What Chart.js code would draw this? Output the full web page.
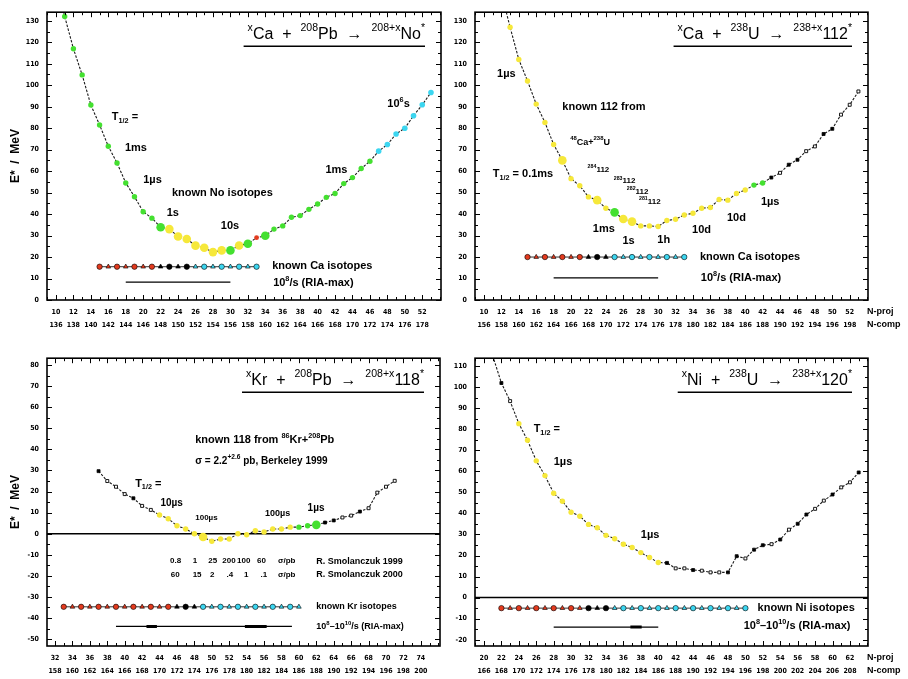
<!DOCTYPE html>
<html>
<head>
<meta charset="utf-8">
<title>Excitation energies of compound nuclei</title>
<script src="https://cdn.jsdelivr.net/npm/chart.js@4.4.1/dist/chart.umd.min.js"></script>
<style>
  html, body { margin:0; padding:0; background:#fff; width:908px; height:679px; overflow:hidden; }
  canvas { position:absolute; }
</style>
</head>
<body>
<canvas id="c1" width="454" height="333" style="left:0;top:0"></canvas>
<canvas id="c2" width="454" height="333" style="left:454px;top:0"></canvas>
<canvas id="c3" width="454" height="333" style="left:0;top:346px"></canvas>
<canvas id="c4" width="454" height="333" style="left:454px;top:346px"></canvas>
<script>
// ================= DATA =================
// Panel 1: xCa + 208Pb -> 208+xNo*
const p1N = [10,11,12,13,14,15,16,17,18,19,20,21,22,23,24,25,26,27,28,29,30,31,32,33,34,35,36,37,38,39,40,41,42,43,44,45,46,47,48,49,50,51,52,53];
const p1E = [150,132,117,104.8,90.8,81.5,71.6,63.8,54.5,48.1,41.1,38.1,33.9,33.0,29.6,28.4,25.3,24.3,22.3,23.1,23.1,25.4,26.2,29.0,29.9,33.0,34.5,38.5,39.3,42.2,44.7,47.8,49.6,54.2,57.0,61.2,64.6,69.3,72.4,77.3,80.0,85.8,90.9,96.6];
const p1Cls = ['n','g','g','g','g','g','g','g','g','g','g','g','G','Y','Y','Y','Y','Y','Y','Y','G','Y','G','r','G','g','g','g','g','g','g','g','g','g','g','g','g','c','c','c','c','c','c','c'];
const p1RowN = [15,16,17,18,19,20,21,22,23,24,25,26,27,28,29,30,31,32,33];
const p1RowCls = ['r','r','r','r','r','r','r','b','b','b','b','c','c','c','c','c','c','c','c'];
const p1RowE = 15.5;
const p1Ria = [18, 30];
const p1RiaE = 8.3;
const p1Proj = [10,12,14,16,18,20,22,24,26,28,30,32,34,36,38,40,42,44,46,48,50,52];
const p1Comp = [136,138,140,142,144,146,148,150,152,154,156,158,160,162,164,166,168,170,172,174,176,178];
const p1YTicks = [0,10,20,30,40,50,60,70,80,90,100,110,120,130];

// Panel 2: xCa + 238U -> 238+x112*
const p2N = [12,13,14,15,16,17,18,19,20,21,22,23,24,25,26,27,28,29,30,31,32,33,34,35,36,37,38,39,40,41,42,43,44,45,46,47,48,49,50,51,52,53];
const p2E = [143,127,112,102,91.2,82.7,72.4,65,56.5,53.2,48,46.5,42.7,40.8,37.7,36.5,34.5,34.5,34.2,37,37.6,39.6,40.4,42.7,43.1,46.8,46.5,49.6,51.2,53.5,54.5,57,59.2,63,65.3,69.3,71.5,77.3,79.7,86.3,90.9,97.1];
const p2Cls = ['n','y','y','y','y','y','y','Y','y','y','y','Y','y','G','Y','Y','y','y','y','y','y','y','y','y','y','y','y','y','y','g','g','b','o','b','b','o','o','b','b','o','o','o'];
const p2RowN = [15,16,17,18,19,20,21,22,23,24,25,26,27,28,29,30,31,32,33];
const p2RowCls = ['r','r','r','r','r','r','r','b','b','b','c','c','c','c','c','c','c','c','c'];
const p2RowE = 20;
const p2Ria = [18, 30];
const p2RiaE = 10.3;
const p2Proj = [10,12,14,16,18,20,22,24,26,28,30,32,34,36,38,40,42,44,46,48,50,52];
const p2Comp = [156,158,160,162,164,166,168,170,172,174,176,178,180,182,184,186,188,190,192,194,196,198];
const p2YTicks = [0,10,20,30,40,50,60,70,80,90,100,110,120,130];

// Panel 3: xKr + 208Pb -> 208+x118*
const p3N = [37,38,39,40,41,42,43,44,45,46,47,48,49,50,51,52,53,54,55,56,57,58,59,60,61,62,63,64,65,66,67,68,69,70,71];
const p3E = [29.7,25,22.3,18.8,16.8,13.2,11.3,8.9,7.1,3.8,2.2,0,-1.6,-3.6,-2.5,-2.5,0,-0.5,1.4,0.8,2.2,2.2,3.1,3.1,3.8,4.2,5.3,6.3,7.7,8.6,10.5,12.1,19.5,22.3,25.1];
const p3Cls = ['b','o','o','o','b','o','o','y','y','y','y','y','Y','y','y','y','y','y','y','y','y','y','y','g','g','G','b','b','o','o','b','o','o','o','o'];
const p3RowN = [33,34,35,36,37,38,39,40,41,42,43,44,45,46,47,48,49,50,51,52,53,54,55,56,57,58,59,60];
const p3RowCls = ['r','r','r','r','r','r','r','r','r','r','r','r','r','b','b','b','c','c','c','c','c','c','c','c','c','c','c','c'];
const p3RowE = -34.7;
const p3Ria = [39, 59.2];
const p3RiaThick = [[42.5, 43.7], [53.8, 56.3]];
const p3RiaE = -44;
const p3Proj = [32,34,36,38,40,42,44,46,48,50,52,54,56,58,60,62,64,66,68,70,72,74];
const p3Comp = [158,160,162,164,166,168,170,172,174,176,178,180,182,184,186,188,190,192,194,196,198,200];
const p3YTicks = [-50,-40,-30,-20,-10,0,10,20,30,40,50,60,70,80];

// Panel 4: xNi + 238U -> 238+x120*
const p4N = [21,22,23,24,25,26,27,28,29,30,31,32,33,34,35,36,37,38,39,40,41,42,43,44,45,46,47,48,49,50,51,52,53,54,55,56,57,58,59,60,61,62,63];
const p4E = [115,102,93.4,82.7,74.8,65,58,49.6,45.8,40.6,38.7,34.8,33.2,29.6,28,25.4,23.8,21.4,19.1,16.7,16.5,13.9,13.9,13.1,12.8,12,12,12,19.7,18.6,22.8,24.9,25.4,27.6,32.3,35.1,39.5,42.2,46.1,49,52.4,54.8,59.5];
const p4Cls = ['n','b','o','y','y','y','y','y','y','y','y','y','y','y','y','y','y','y','y','y','b','o','o','b','o','o','o','b','b','o','b','b','o','b','o','b','b','o','o','b','o','o','b'];
const p4RowN = [22,23,24,25,26,27,28,29,30,31,32,33,34,35,36,37,38,39,40,41,42,43,44,45,46,47,48,49,50];
const p4RowCls = ['r','r','r','r','r','r','r','r','r','r','b','b','b','c','c','c','c','c','c','c','c','c','c','c','c','c','c','c','c'];
const p4RowE = -5;
const p4Ria = [28, 40];
const p4RiaThick = [[36.8, 38.1]];
const p4RiaE = -14;
const p4Proj = [20,22,24,26,28,30,32,34,36,38,40,42,44,46,48,50,52,54,56,58,60,62];
const p4Comp = [166,168,170,172,174,176,178,180,182,184,186,188,190,192,194,196,198,200,202,204,206,208];
const p4YTicks = [-20,-10,0,10,20,30,40,50,60,70,80,90,100,110];

// ================= TEXT LABELS =================
const p1Notes = [
  {t:'T_{1/2} =', n:16.4, e:85},
  {t:'1ms', n:17.9, e:70.7},
  {t:'1µs', n:20, e:55.8},
  {t:'known No isotopes', n:23.3, e:49.9},
  {t:'1s', n:22.7, e:40.4},
  {t:'10s', n:28.9, e:34.5},
  {t:'1ms', n:40.9, e:60.4},
  {t:'10^{6}s', n:48, e:91.2},
  {t:'known Ca isotopes', n:34.8, e:15.7},
  {t:'10^{8}/s (RIA-max)', n:34.9, e:8}
];
const p2Notes = [
  {t:'1µs', n:11.5, e:105.4},
  {t:'known 112 from', n:19, e:90},
  {t:'^{48}Ca+^{238}U', n:19.9, e:73.5, s:9},
  {t:'T_{1/2} = 0.1ms', n:11, e:58.5},
  {t:'^{284}112', n:21.9, e:60.7, s:8},
  {t:'^{283}112', n:24.9, e:55.3, s:8},
  {t:'^{282}112', n:26.4, e:50.4, s:8},
  {t:'^{281}112', n:27.8, e:45.8, s:8},
  {t:'1ms', n:22.5, e:33},
  {t:'1s', n:25.9, e:27.7},
  {t:'1h', n:29.9, e:28},
  {t:'10d', n:33.9, e:32.4},
  {t:'10d', n:37.9, e:38},
  {t:'1µs', n:41.8, e:45.8},
  {t:'known Ca isotopes', n:34.8, e:20},
  {t:'10^{8}/s (RIA-max)', n:34.9, e:10.3}
];
const p3Notes = [
  {t:'known 118 from ^{86}Kr+^{208}Pb', n:48.1, e:44.6},
  {t:'σ = 2.2^{+2.6} pb, Berkeley 1999', n:48.1, e:34.5, s:10},
  {t:'T_{1/2} =', n:41.2, e:23.5},
  {t:'10µs', n:44.1, e:14.4, s:10},
  {t:'100µs', n:48.1, e:7.7, s:8},
  {t:'100µs', n:56.1, e:9.4, s:9},
  {t:'1µs', n:61, e:12.1, s:10},
  {t:'0.8', n:45.2, e:-13, s:8}, {t:'1', n:47.8, e:-13, s:8}, {t:'25', n:49.6, e:-13, s:8},
  {t:'200', n:51.2, e:-13, s:8}, {t:'100', n:52.9, e:-13, s:8}, {t:'60', n:55.2, e:-13, s:8},
  {t:'σ/pb', n:57.6, e:-13, s:8},
  {t:'60', n:45.3, e:-19.3, s:8}, {t:'15', n:47.8, e:-19.3, s:8}, {t:'2', n:49.8, e:-19.3, s:8},
  {t:'.4', n:51.7, e:-19.3, s:8}, {t:'1', n:53.7, e:-19.3, s:8}, {t:'.1', n:55.6, e:-19.3, s:8},
  {t:'σ/pb', n:57.6, e:-19.3, s:8},
  {t:'R. Smolanczuk 1999', n:62, e:-13, s:9},
  {t:'R. Smolanczuk 2000', n:62, e:-19.3, s:9},
  {t:'known Kr isotopes', n:62, e:-34.7, s:9},
  {t:'10^{8}–10^{10}/s (RIA-max)', n:62, e:-44, s:9}
];
const p4Notes = [
  {t:'T_{1/2} =', n:25.7, e:80},
  {t:'1µs', n:28, e:64.3},
  {t:'1µs', n:38, e:29.6},
  {t:'known Ni isotopes', n:51.4, e:-5},
  {t:'10^{8}–10^{10}/s (RIA-max)', n:49.8, e:-13.7}
];

// ================= STYLES / RENDERING =================
const FONT = "'Liberation Sans', Arial, sans-serif";
const NARROW = "'Liberation Sans Narrow', 'DejaVu Sans Condensed', 'Liberation Sans', sans-serif";
const CLASS_STYLE = {
  n: {bg:'rgba(0,0,0,0)', bd:'rgba(0,0,0,0)', r:0, s:'circle', bw:0},
  g: {bg:'#44e030', bd:'#44e030', r:2.7, s:'circle', bw:0},
  G: {bg:'#44e030', bd:'#44e030', r:4.3, s:'circle', bw:0},
  y: {bg:'#f6e83a', bd:'#f6e83a', r:2.7, s:'circle', bw:0},
  Y: {bg:'#f6e83a', bd:'#f6e83a', r:4.3, s:'circle', bw:0},
  c: {bg:'#3cd6f0', bd:'#3cd6f0', r:2.8, s:'circle', bw:0},
  r: {bg:'#e33a1e', bd:'#e33a1e', r:2.4, s:'circle', bw:0},
  b: {bg:'#000000', bd:'#000000', r:2.1, s:'rect', bw:0.8},
  o: {bg:'#ffffff', bd:'#000000', r:2.1, s:'rect', bw:0.9}
};
const ROW_COLOR = { r:'#e33a1e', b:'#000000', c:'#3cd6f0' };

function richSegments(str) {
  const out = [];
  const re = /([\^_])\{([^}]*)\}|([^\^_]+)/g;
  let m;
  while ((m = re.exec(str)) !== null) {
    if (m[3] !== undefined) out.push({t:m[3], k:0});
    else out.push({t:m[2], k: m[1] === '^' ? 1 : -1});
  }
  return out;
}
function drawRich(ctx, str, x, y, size, weight, align) {
  const segs = richSegments(str);
  const fontOf = s => `${weight} ${s}px ${FONT}`;
  let w = 0;
  segs.forEach(sg => {
    sg.size = sg.k ? size * 0.66 : size;
    ctx.font = fontOf(sg.size);
    sg.w = ctx.measureText(sg.t).width;
    w += sg.w;
  });
  let cx = align === 'right' ? x - w : (align === 'center' ? x - w / 2 : x);
  const x0 = cx;
  ctx.textBaseline = 'middle';
  ctx.textAlign = 'left';
  segs.forEach(sg => {
    ctx.font = fontOf(sg.size);
    const dy = sg.k === 1 ? -size * 0.38 : (sg.k === -1 ? size * 0.3 : 0);
    ctx.fillText(sg.t, cx, y + dy);
    cx += sg.w;
  });
  return {x0, w};
}

const PANELS = {};

const decoPlugin = {
  id: 'panelDeco',
  beforeDatasetsDraw(chart) {
    const P = PANELS[chart.canvas.id];
    const {ctx, chartArea: a, scales: {x, y}} = chart;
    if (P.zeroLine) {
      const py = y.getPixelForValue(0);
      ctx.save();
      ctx.strokeStyle = '#000'; ctx.lineWidth = 1.5;
      ctx.beginPath(); ctx.moveTo(a.left, py); ctx.lineTo(a.right, py); ctx.stroke();
      ctx.restore();
    }
  },
  afterDraw(chart) {
    const P = PANELS[chart.canvas.id];
    const {ctx, chartArea: a, scales: {x, y}} = chart;
    ctx.save();
    ctx.strokeStyle = '#000';
    ctx.lineWidth = 1.6;
    ctx.strokeRect(a.left, a.top, a.right - a.left, a.bottom - a.top);
    ctx.lineWidth = 1;
    ctx.beginPath();
    for (let n = Math.ceil(x.min); n <= Math.floor(x.max); n++) {
      const px = Math.round(x.getPixelForValue(n)) + 0.5;
      const len = P.proj.includes(n) ? 5 : 3;
      ctx.moveTo(px, a.bottom); ctx.lineTo(px, a.bottom - len);
      ctx.moveTo(px, a.top); ctx.lineTo(px, a.top + len);
    }
    for (let v = Math.ceil(y.min / 5) * 5; v <= y.max; v += 5) {
      const py = Math.round(y.getPixelForValue(v)) + 0.5;
      const len = v % 10 === 0 ? 5 : 3;
      ctx.moveTo(a.left, py); ctx.lineTo(a.left + len, py);
      ctx.moveTo(a.right, py); ctx.lineTo(a.right - len, py);
    }
    ctx.stroke();
    ctx.fillStyle = '#000';
    const tr = a.right - 16;
    const t = drawRich(ctx, P.title, tr, a.top + 22, 16, 'normal', 'right');
    ctx.lineWidth = 1.5;
    ctx.beginPath(); ctx.moveTo(t.x0 - 4, a.top + 34); ctx.lineTo(tr, a.top + 34); ctx.stroke();
    P.notes.forEach(nt => drawRich(ctx, nt.t, x.getPixelForValue(nt.n), y.getPixelForValue(nt.e), nt.s || 11, 'bold', 'left'));
    if (P.axisNames) {
      ctx.font = `bold 9px ${FONT}`;
      ctx.textAlign = 'left'; ctx.textBaseline = 'middle';
      ctx.fillText('N-proj', a.right - 1, a.bottom + 12);
      ctx.fillText('N-comp', a.right - 1, a.bottom + 25);
    }
    ctx.restore();
  }
};

function makeChart(P) {
  PANELS[P.id] = P;
  const st = P.cls.map(c => CLASS_STYLE[c]);
  const datasets = [
    {
      data: P.N.map((n, i) => ({x: n, y: P.E[i]})),
      showLine: true, borderColor: '#1a1a1a', borderWidth: 1.1, borderDash: [2.5, 1.5],
      pointStyle: st.map(s => s.s), pointRadius: st.map(s => s.r),
      pointBackgroundColor: st.map(s => s.bg), pointBorderColor: st.map(s => s.bd),
      pointBorderWidth: st.map(s => s.bw)
    },
    {
      data: P.rowN.map(n => ({x: n, y: P.rowE})),
      showLine: true, borderColor: '#000', borderWidth: 0.8,
      pointStyle: P.rowN.map((n, i) => i % 2 ? 'triangle' : 'circle'),
      pointRadius: 2.7,
      pointBackgroundColor: P.rowCls.map(c => ROW_COLOR[c]),
      pointBorderColor: '#000', pointBorderWidth: 0.6
    },
    {
      data: P.ria.map(n => ({x: n, y: P.riaE})),
      showLine: true, borderColor: '#000', borderWidth: 1.2, pointRadius: 0
    }
  ];
  (P.riaThick || []).forEach(seg => datasets.push({
    data: seg.map(n => ({x: n, y: P.riaE})),
    showLine: true, borderColor: '#000', borderWidth: 3, pointRadius: 0
  }));
  return new Chart(document.getElementById(P.id), {
    type: 'scatter',
    data: {datasets},
    options: {
      responsive: false, animation: false, events: [],
      layout: {padding: {left: 0, top: 11, right: P.padR, bottom: 0}},
      plugins: {legend: {display: false}, tooltip: {enabled: false}},
      elements: {line: {tension: 0}},
      scales: {
        x: {
          type: 'linear', position: 'bottom', bounds: 'data', min: P.xMin, max: P.xMax,
          afterBuildTicks: s => { s.ticks = P.proj.map(v => ({value: v})); },
          afterFit: s => { s.height = 33; },
          grid: {display: false, drawTicks: false}, border: {display: false},
          ticks: {
            autoSkip: false, maxRotation: 0, minRotation: 0, padding: 5.5, color: '#000',
            font: {family: NARROW, size: 7, weight: 'bold', lineHeight: 1.9},
            callback: v => { const i = P.proj.indexOf(v); return i < 0 ? '' : [String(P.proj[i]), String(P.comp[i])]; }
          }
        },
        y: {
          type: 'linear', position: 'left', bounds: 'data', min: P.yMin, max: P.yMax,
          afterBuildTicks: s => { s.ticks = P.yTicks.map(v => ({value: v})); },
          afterFit: s => { s.width = P.yW; },
          grid: {display: false, drawTicks: false}, border: {display: false},
          ticks: {autoSkip: false, padding: 8, color: '#000', font: {family: NARROW, size: 7, weight: 'bold'},
                  callback: v => String(v)},
          title: {display: !!P.yTitle, text: 'E*  /  MeV', color: '#000',
                  font: {family: FONT, size: 12, weight: 'bold'}, padding: {top: 8, bottom: 0}}
        }
      }
    },
    plugins: [decoPlugin]
  });
}

makeChart({id:'c1', N:p1N, E:p1E, cls:p1Cls, rowN:p1RowN, rowCls:p1RowCls, rowE:p1RowE,
  ria:p1Ria, riaE:p1RiaE, proj:p1Proj, comp:p1Comp, yTicks:p1YTicks,
  xMin:8.97, xMax:54.15, yMin:0, yMax:134, yW:47, padR:13, yTitle:true,
  title:'^{x}Ca  +  ^{208}Pb  →  ^{208+x}No^{*}', notes:p1Notes});
makeChart({id:'c2', N:p2N, E:p2E, cls:p2Cls, rowN:p2RowN, rowCls:p2RowCls, rowE:p2RowE,
  ria:p2Ria, riaE:p2RiaE, proj:p2Proj, comp:p2Comp, yTicks:p2YTicks,
  xMin:8.97, xMax:54.1, yMin:0, yMax:134, yW:21, padR:40, axisNames:true,
  title:'^{x}Ca  +  ^{238}U  →  ^{238+x}112^{*}', notes:p2Notes});
makeChart({id:'c3', N:p3N, E:p3E, cls:p3Cls, rowN:p3RowN, rowCls:p3RowCls, rowE:p3RowE,
  ria:p3Ria, riaThick:p3RiaThick, riaE:p3RiaE, proj:p3Proj, comp:p3Comp, yTicks:p3YTicks,
  xMin:31.08, xMax:76.2, yMin:-53.3, yMax:83.3, yW:47, padR:14, yTitle:true, zeroLine:true,
  title:'^{x}Kr  +  ^{208}Pb  →  ^{208+x}118^{*}', notes:p3Notes});
makeChart({id:'c4', N:p4N, E:p4E, cls:p4Cls, rowN:p4RowN, rowCls:p4RowCls, rowE:p4RowE,
  ria:p4Ria, riaThick:p4RiaThick, riaE:p4RiaE, proj:p4Proj, comp:p4Comp, yTicks:p4YTicks,
  xMin:18.97, xMax:64.07, yMin:-23, yMax:113.8, yW:21, padR:40, axisNames:true, zeroLine:true,
  title:'^{x}Ni  +  ^{238}U  →  ^{238+x}120^{*}', notes:p4Notes});
</script>
</body>
</html>
